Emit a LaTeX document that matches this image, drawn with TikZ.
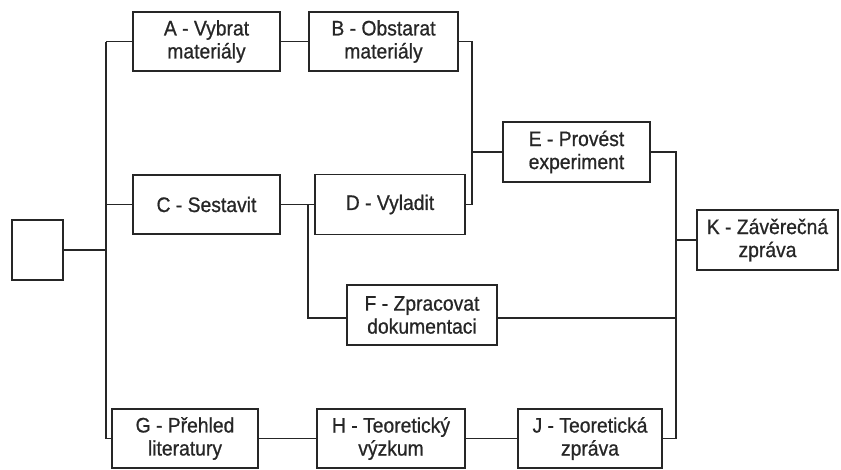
\documentclass[tikz,border=0pt]{standalone}
\usepackage{fontspec}
\setmainfont{Liberation Sans}[FakeStretch=0.92,FakeBold=0.8]
\usetikzlibrary{positioning}
\tikzstyle{task} = [draw=black!85,rectangle,line width=1.8pt,align=center,inner sep=0,minimum width=147pt,minimum height=59pt,text=black!85,font=\fontsize{21}{23}\selectfont]
\tikzstyle{link} = [-,draw=black!85,line width=1.7pt]

\begin{document}
\begin{tikzpicture}[x=1pt,y=-1pt]
      \useasboundingbox (0,0) rectangle (841,469);
      \node[task,minimum width=51pt,minimum height=60pt] (s) at (37.5,250) {};
      \node[task] (a) at (206.5,41.5) {A - Vybrat\\materiály};
      \node[task,minimum width=149pt] (b) at (383.5,41.5) {B - Obstarat\\materiály};
      \node[task] (c) at (206.5,204.5) {C - Sestavit};
      \node[task,minimum width=150pt,minimum height=60pt] (d) at (390,204.5) {D - Vyladit};
      \node[task,minimum height=60pt] (e) at (576.5,152) {E - Provést\\experiment};
      \node[task,minimum width=150pt,minimum height=60pt] (f) at (422,315) {F - Zpracovat\\dokumentaci};
      \node[task,minimum width=146pt] (g) at (185,438.5) {G - Přehled\\literatury};
      \node[task,minimum width=148pt] (h) at (391,438.5) {H - Teoretický\\výzkum};
      \node[task,minimum width=144pt] (j) at (590,438.5) {J - Teoretická\\zpráva};
      \node[task,minimum width=141pt,minimum height=60pt] (k) at (767.5,240) {K - Závěrečná\\zpráva};
      % junction lines
      \coordinate (sp) at (106,0);
      \coordinate (bd) at (472,0);
      \coordinate (cf) at (308,0);
      \coordinate (kk) at (676,0);
      \coordinate (fw) at ([yshift=-3pt]f.west);
      \coordinate (fe) at ([yshift=-3pt]f.east);
      \draw[link] (s.east) -- (sp |- s.east);
      \draw[link] (sp |- a.west) -- (sp |- g.west);
      \draw[link] (sp |- a.west) -- (a.west);
      \draw[link] (sp |- c.west) -- (c.west);
      \draw[link] (sp |- g.west) -- (g.west);
      \draw[link] (a.east) -- (b.west);
      \draw[link] (b.east) -| (bd |- d.east) -- (d.east);
      \draw[link] (bd |- e.west) -- (e.west);
      \draw[link] (c.east) -- (d.west);
      \draw[link] (cf |- c.east) |- (fw);
      \draw[link] (e.east) -| (kk |- j.east) -- (j.east);
      \draw[link] (kk |- k.west) -- (k.west);
      \draw[link] (fe) -- (kk |- fe);
      \draw[link] (g.east) -- (h.west);
      \draw[link] (h.east) -- (j.west);
\end{tikzpicture}
\end{document}
